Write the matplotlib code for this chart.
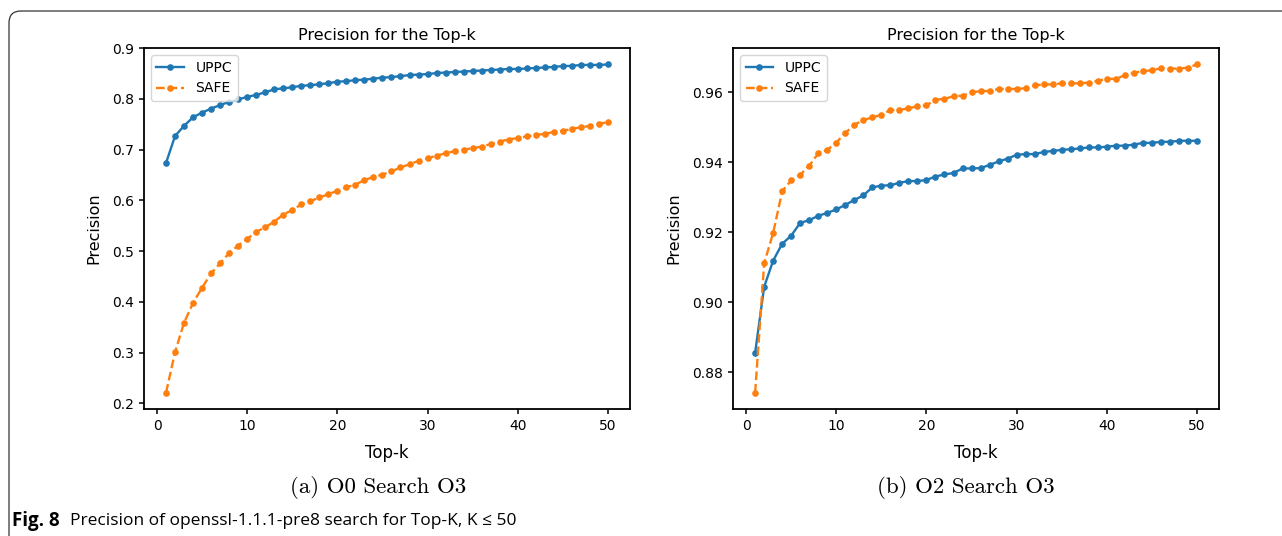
#Makes the Top-k precision figure (two panels) and saves it to out.png
import matplotlib
matplotlib.use("Agg")
import matplotlib.pyplot as plt
from matplotlib.patches import FancyBboxPatch

topK = list(range(1, 51))

# panel (a): O0 search O3
uppcO0 = [0.674, 0.727, 0.747, 0.764, 0.773, 0.781, 0.788, 0.794, 0.799, 0.804,
          0.808, 0.813, 0.819, 0.821, 0.823, 0.826, 0.827, 0.829, 0.831, 0.834,
          0.835, 0.837, 0.838, 0.840, 0.842, 0.843, 0.845, 0.847, 0.848, 0.849,
          0.851, 0.852, 0.853, 0.854, 0.855, 0.856, 0.857, 0.858, 0.859, 0.859,
          0.860, 0.861, 0.862, 0.863, 0.865, 0.865, 0.867, 0.867, 0.867, 0.868]
safeO0 = [0.221, 0.301, 0.359, 0.398, 0.428, 0.456, 0.476, 0.496, 0.511, 0.524,
          0.538, 0.547, 0.558, 0.572, 0.581, 0.592, 0.598, 0.606, 0.612, 0.619,
          0.626, 0.631, 0.640, 0.646, 0.651, 0.657, 0.665, 0.671, 0.678, 0.683,
          0.688, 0.693, 0.697, 0.700, 0.703, 0.706, 0.711, 0.716, 0.720, 0.723,
          0.726, 0.729, 0.731, 0.735, 0.737, 0.741, 0.744, 0.747, 0.751, 0.754]

# panel (b): O2 search O3
uppcO2 = [0.8856, 0.9044, 0.9119, 0.9167, 0.9190, 0.9227, 0.9234, 0.9247, 0.9255, 0.9265,
          0.9278, 0.9292, 0.9305, 0.9328, 0.9333, 0.9334, 0.9341, 0.9346, 0.9346, 0.9349,
          0.9359, 0.9365, 0.9369, 0.9382, 0.9382, 0.9383, 0.9392, 0.9402, 0.9410, 0.9421,
          0.9423, 0.9423, 0.9429, 0.9432, 0.9435, 0.9437, 0.9439, 0.9442, 0.9442, 0.9444,
          0.9447, 0.9447, 0.9450, 0.9455, 0.9455, 0.9458, 0.9458, 0.9461, 0.9461, 0.9461]
safeO2 = [0.8742, 0.9111, 0.9198, 0.9317, 0.9348, 0.9364, 0.9390, 0.9425, 0.9435, 0.9456,
          0.9483, 0.9507, 0.9520, 0.9528, 0.9535, 0.9549, 0.9549, 0.9554, 0.9559, 0.9562,
          0.9578, 0.9581, 0.9588, 0.9590, 0.9599, 0.9603, 0.9603, 0.9609, 0.9609, 0.9609,
          0.9611, 0.9619, 0.9622, 0.9622, 0.9625, 0.9625, 0.9625, 0.9627, 0.9632, 0.9638,
          0.9638, 0.9648, 0.9655, 0.9660, 0.9662, 0.9668, 0.9667, 0.9667, 0.9670, 0.9679]

subCaptions = ["(a) O0 Search O3", "(b) O2 Search O3"]


def drawPanel(ax, uppc, safe):
    """
    draws one precision panel with the two methods
    """
    ax.plot(topK, uppc, ".-", color="#1f77b4", lw=1.7, ms=7.5, label="UPPC")
    ax.plot(topK, safe, ".--", color="#ff7f0e", lw=1.7, ms=7.5, label="SAFE")
    ax.set_title("Precision for the Top-k", fontsize=11.5)
    ax.set_xlabel("Top-k", fontsize=12, labelpad=8)
    ax.set_ylabel("Precision", fontsize=11.5, labelpad=8)
    ax.tick_params(labelsize=10, width=1.1)
    for spine in ax.spines.values():
        spine.set_linewidth(1.3)
    ax.legend(loc="upper left", fontsize=10)


def makeFigure():
    fig = plt.figure(figsize=(12.82, 5.36), dpi=100)

    # page frame around the figure
    frame = FancyBboxPatch((9, -30), 1320, 536 - 11 + 30,
                           boxstyle="round,pad=0,rounding_size=12",
                           transform=None, facecolor="none",
                           edgecolor="#333333", linewidth=0.9)
    fig.patches.append(frame)

    axLeft = fig.add_axes([0.1123, 0.2369, 0.3791, 0.6735])
    axRight = fig.add_axes([0.5718, 0.2369, 0.3791, 0.6735])
    drawPanel(axLeft, uppcO0, safeO0)
    drawPanel(axRight, uppcO2, safeO2)

    fig.text(0.295, 0.09, subCaptions[0], family="cmr10", fontsize=16.5,
             ha="center", va="center")
    fig.text(0.7532, 0.09, subCaptions[1], family="cmr10", fontsize=16.5,
             ha="center", va="center")

    fig.text(0.0095, 0.028, "Fig. 8", family="Open Sans", fontweight="bold",
             fontsize=13.5, ha="left", va="center")
    fig.text(0.0546, 0.028, "Precision of openssl-1.1.1-pre8 search for Top-K, K \u2264 50",
             family=["Open Sans", "DejaVu Sans"], fontsize=12.5,
             ha="left", va="center")

    fig.savefig("out.png", dpi=100)
    plt.close(fig)


if __name__ == "__main__":
    makeFigure()
